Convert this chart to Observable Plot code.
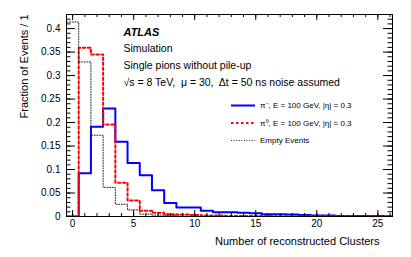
<!DOCTYPE html>
<html><head><meta charset="utf-8">
<script src="https://cdn.jsdelivr.net/npm/d3@7"></script>
<script src="https://cdn.jsdelivr.net/npm/@observablehq/plot@0.6"></script>
<style>body{margin:0;background:#fff} svg{display:block}</style>
</head><body><div id="chart"></div>
<script>
// ---- data ----
const binCenters = [0,1,2,3,4,5,6,7,8,9,10,11,12,13,14,15,16,17,18,19,20,21,22,23,24,25,26];
const piMinus = [0, 0.092, 0.191, 0.230, 0.159, 0.114, 0.088, 0.056, 0.029, 0.019, 0.019, 0.012, 0.009, 0.009, 0.008, 0.007, 0.005, 0.005, 0.004, 0.003, 0.002, 0.002, 0.001, 0.001, 0.001, 0.001, 0.0005];
const piZero  = [0, 0.359, 0.345, 0.196, 0.072, 0.034, 0.012, 0.008, 0.005, 0.004, 0.003, 0.002, 0.002, 0.001, 0.001, 0.001, 0.001, 0.0005, 0.0005, 0.0005, 0.0005, 0.0005, 0.0003, 0.0003, 0.0003, 0.0002, 0.0002];
const emptyEv = [0.414, 0.329, 0.173, 0.062, 0.026, 0.014, 0.005, 0.003, 0.002, 0.001, 0, 0, 0, 0, 0, 0, 0, 0, 0, 0, 0, 0, 0, 0, 0, 0, 0];
const seriesNames = ["π⁻, E = 100 GeV, |η| = 0.3", "π⁰, E = 100 GeV, |η| = 0.3", "Empty Events"];
const xTickLabels = [0, 5, 10, 15, 20, 25];
const yTickLabels = [0, 0.05, 0.1, 0.15, 0.2, 0.25, 0.3, 0.35, 0.4];
const annotation = ["Simulation", "Single pions without pile-up", "√s = 8 TeV,  μ = 30,  Δt = 50 ns noise assumed"];
const xTitle = "Number of reconstructed Clusters";
const yTitle = "Fraction of Events / 1";

// ---- layout ----
const width = 411, height = 257;
const mL = 66, mT = 14, mR = 19, mB = 41;
const W = width - mL - mR, H = height - mT - mB;
const font = "Liberation Sans, Arial, Helvetica, sans-serif";

function steps(vals) {
  const pts = [{x: binCenters[0] - 0.5, y: 0}];
  vals.forEach((v, i) => {
    pts.push({x: binCenters[i] - 0.5, y: v});
    pts.push({x: binCenters[i] + 0.5, y: v});
  });
  pts.push({x: binCenters[binCenters.length - 1] + 0.5, y: 0});
  return pts;
}

const styles = [
  {stroke: "#0000ff", strokeWidth: 2, dash: null},
  {stroke: "#ff0000", strokeWidth: 2, dash: "2.5,2.5"},
  {stroke: "#222222", strokeWidth: 1, dash: "1,1.6"}
];

const yMinor = d3.range(0, 0.4301, 0.01).map(d => +d.toFixed(3));
const xMinor = binCenters;

function legend() {
  return (index, scales, values, dims) => {
    const g = d3.create("svg:g").attr("font-family", font).attr("font-size", 8)
      .attr("text-anchor", "start").attr("fill", "#000");
    seriesNames.forEach((name, i) => {
      const y = 105.5 + i * 17.5;
      g.append("line").attr("x1", 231).attr("x2", 255).attr("y1", y).attr("y2", y)
        .attr("stroke", styles[i].stroke).attr("stroke-width", styles[i].strokeWidth)
        .attr("stroke-dasharray", styles[i].dash);
      g.append("text").attr("x", 260).attr("y", y).attr("dy", "0.33em").text(name);
    });
    return g.node();
  };
}

const annotMarks = annotation.map((t, i) =>
  Plot.text([t], {frameAnchor: "top-left", dx: 57, dy: 30 + i * 16.8, textAnchor: "start", fontSize: 10.5, fill: "#000"}));

const plot = Plot.plot({
  width, height,
  marginLeft: mL, marginTop: mT, marginRight: mR, marginBottom: mB,
  style: {fontFamily: font, background: "#fff", color: "#000"},
  x: {domain: [-0.5, 26.2], axis: null},
  y: {domain: [0, 0.430], axis: null},
  marks: [
    // histograms
    Plot.line(steps(piMinus), {x: "x", y: "y", stroke: styles[0].stroke, strokeWidth: 2, clip: true}),
    Plot.line(steps(piZero), {x: "x", y: "y", stroke: styles[1].stroke, strokeWidth: 2, strokeDasharray: styles[1].dash, clip: true}),
    Plot.line(steps(emptyEv), {x: "x", y: "y", stroke: styles[2].stroke, strokeWidth: 1, strokeDasharray: styles[2].dash, clip: true}),
    // inward ticks
    Plot.tickY(yMinor, {y: d => d, insetRight: W - 4.5, stroke: "#000"}),
    Plot.tickY(yTickLabels, {y: d => d, insetRight: W - 9, stroke: "#000"}),
    Plot.tickY(yMinor, {y: d => d, insetLeft: W - 4.5, stroke: "#000"}),
    Plot.tickY(yTickLabels, {y: d => d, insetLeft: W - 9, stroke: "#000"}),
    Plot.tickX(xMinor, {x: d => d, insetTop: H - 3, stroke: "#000"}),
    Plot.tickX(xTickLabels, {x: d => d, insetTop: H - 6, stroke: "#000"}),
    Plot.tickX(xMinor, {x: d => d, insetBottom: H - 3, stroke: "#000"}),
    Plot.tickX(xTickLabels, {x: d => d, insetBottom: H - 6, stroke: "#000"}),
    Plot.frame({stroke: "#000", strokeWidth: 1}),
    // axes labels
    Plot.axisY({ticks: yTickLabels, tickSize: 0, tickPadding: 6, fontSize: 10, label: null,
      tickFormat: d => String(+d.toFixed(2))}),
    Plot.axisX({ticks: xTickLabels, tickSize: 0, tickPadding: 3, fontSize: 10, label: null,
      tickFormat: d => String(d)}),
    Plot.text([yTitle], {frameAnchor: "top-left", dx: -46, dy: 0, rotate: -90, textAnchor: "end", fontSize: 11, fill: "#000"}),
    Plot.text([xTitle], {frameAnchor: "bottom-right", dx: -13, dy: 28.5, textAnchor: "end", fontSize: 11, fill: "#000"}),
    // annotations
    Plot.text(["ATLAS"], {frameAnchor: "top-left", dx: 57, dy: 13.5, textAnchor: "start", fontSize: 11, fontWeight: "bold", fontStyle: "italic", fill: "#000"}),
    ...annotMarks,
    legend()
  ]
});
document.getElementById("chart").appendChild(plot);
</script>
</body></html>
